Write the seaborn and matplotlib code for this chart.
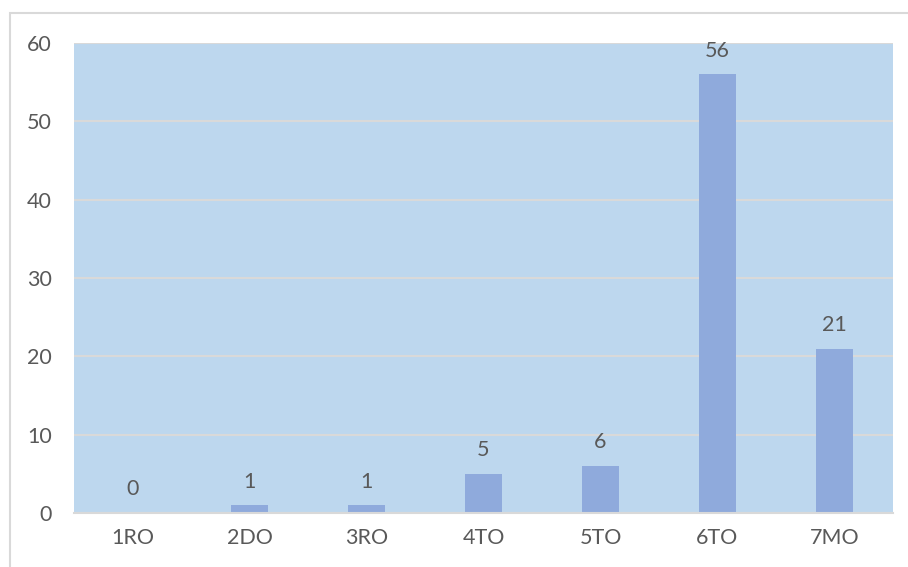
import matplotlib
matplotlib.use("Agg")
import matplotlib.pyplot as plt
from matplotlib.patches import Rectangle
import seaborn as sns
import pandas as pd

categories = ["1RO", "2DO", "3RO", "4TO", "5TO", "6TO", "7MO"]
values = [0, 1, 1, 5, 6, 56, 21]
y_ticks = [0, 10, 20, 30, 40, 50, 60]

sns.set_theme(style="white")
plt.rcParams["font.family"] = ["Lato", "DejaVu Sans"]

text_color = "#595959"
grid_color = "#D9D9D9"
bar_color = "#8FAADC"
panel_color = "#BDD7EE"
fs = 15.5

fig = plt.figure(figsize=(9.08, 5.67), dpi=100)
ax = fig.add_axes([74 / 908, 1 - 513 / 567, (893 - 74) / 908, (513 - 43) / 567])

# chart frame around the whole figure area
fig.patches.append(Rectangle((10 / 908, -0.1), 1.2, 1 - 13 / 567 + 0.1,
                             transform=fig.transFigure, fill=False,
                             edgecolor=grid_color, linewidth=1.5))

df = pd.DataFrame({"cat": categories, "val": values})
sns.barplot(data=df, x="cat", y="val", color=bar_color, saturation=1,
            width=0.31, linewidth=0, ax=ax, zorder=3)

ax.set_facecolor(panel_color)
ax.set_xlim(-0.5, len(categories) - 0.5)
ax.set_ylim(0, 60)
ax.set_yticks(y_ticks)
ax.yaxis.grid(True, color=grid_color, linewidth=1.5, zorder=1)
ax.set_axisbelow(True)
for side in ["left", "right", "top"]:
    ax.spines[side].set_visible(False)
ax.spines["bottom"].set_color(grid_color)
ax.spines["bottom"].set_linewidth(1.5)
ax.spines["bottom"].set_zorder(4)

ax.tick_params(axis="both", length=0, labelsize=fs, labelcolor=text_color)
ax.tick_params(axis="y", pad=16)
ax.tick_params(axis="x", pad=11)
ax.set_xlabel("")
ax.set_ylabel("")

for i, v in enumerate(values):
    ax.annotate(str(v), (i, v), xytext=(0, 17), textcoords="offset points",
                ha="center", va="center", fontsize=fs, color=text_color,
                annotation_clip=False, zorder=5)

fig.savefig("out.png", dpi=100, facecolor="white")
